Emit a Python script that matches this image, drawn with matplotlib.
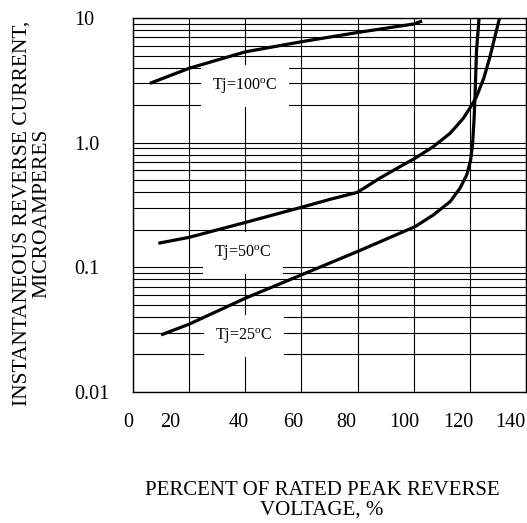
import matplotlib
matplotlib.use("Agg")
import matplotlib.pyplot as plt
from matplotlib.ticker import LogLocator, NullFormatter

plt.rcParams['font.family'] = ['Liberation Serif', 'DejaVu Serif']
plt.rcParams['mathtext.fontset'] = 'custom'
plt.rcParams['mathtext.rm'] = 'Liberation Serif'

# curve values (percent of rated PRV -> microamps)
v_100 = [6, 20, 40, 60, 80, 100, 103]
i_100 = [2.99, 3.95, 5.35, 6.45, 7.65, 8.95, 9.45]

v_50 = [9, 20, 40, 60, 70, 80, 88, 95, 100.5, 107, 113, 117.7, 120.7, 122.4, 125, 127.2, 130.6]
i_50 = [0.156, 0.174, 0.229, 0.303, 0.35, 0.40, 0.52, 0.64, 0.75, 0.93, 1.19, 1.57, 2.0, 2.34, 3.3, 4.9, 10]

v_25 = [10, 20, 40, 60, 80, 100.5, 107, 113, 116.5, 118.9, 120.3, 121, 121.5, 121.8, 122.4, 123.3]
i_25 = [0.0287, 0.035, 0.0565, 0.087, 0.134, 0.212, 0.263, 0.337, 0.431, 0.551, 0.726, 0.99, 1.52, 2.2, 5.5, 10]

curve_labels = [r'Tj=100$^{\mathrm{o}}$C', r'Tj=50$^{\mathrm{o}}$C', r'Tj=25$^{\mathrm{o}}$C']
x_ticks = [0, 20, 40, 60, 80, 100, 120, 140]
y_ticks = [0.01, 0.1, 1.0, 10]
y_ticklabels = ['0.01', '0.1', '1.0', '10']

# the printed x labels sit a little left of their grid lines
x_label_pos = [-1.8, 13.2, 37.6, 57.0, 76.1, 96.7, 115.8, 134.3]
label_pos = [(39.9, 2.85), (39.2, 0.1305), (39.5, 0.0282)]

fig = plt.figure(figsize=(5.27, 5.23), dpi=100)
ax = fig.add_axes([0.2524, 0.2505, 0.7456, 0.7151])

ax.set_yscale('log')

ax.set_xticks(x_ticks)
ax.set_xticklabels([''] * len(x_ticks))
ax.xaxis.grid(True, which='major', color='black', lw=0.8)

ax.set_yticks(y_ticks)
ax.set_yticklabels(y_ticklabels)
ax.yaxis.set_minor_locator(LogLocator(base=10, subs=range(2, 10)))
ax.yaxis.set_minor_formatter(NullFormatter())
ax.yaxis.grid(True, which='both', color='black', lw=0.8)
ax.set_axisbelow(True)

ax.set_xlim(0, 140)
ax.set_ylim(0.01, 10)

ax.tick_params(axis='both', which='both', length=0, labelsize=14.5)
ax.tick_params(axis='y', which='major', pad=42)
for lab in ax.get_yticklabels():
    lab.set_horizontalalignment('left')

# x numbers placed by hand, they don't line up with the grid in the original
for t, pos in zip(x_ticks, x_label_pos):
    ax.annotate(str(t), xy=(pos, 0), xycoords=('data', 'axes fraction'),
                xytext=(0, -15), textcoords='offset points',
                ha='center', va='top', fontsize=14.5, annotation_clip=False)

for s in ax.spines.values():
    s.set_linewidth(1.0)

for v, i in [(v_100, i_100), (v_50, i_50), (v_25, i_25)]:
    ax.plot(v, i, color='black', lw=2.3, solid_joinstyle='round',
            solid_capstyle='butt', zorder=4)

for txt, (x, y) in zip(curve_labels, label_pos):
    ax.text(x, y, txt, fontsize=11.5, ha='center', va='center', zorder=3,
            bbox=dict(boxstyle='square,pad=0.7', fc='white', ec='none'))

fig.text(32 / 527, 1 - 213 / 523,
         'INSTANTANEOUS REVERSE CURRENT,\nMICROAMPERES',
         rotation=90, ha='center', va='center', fontsize=15.5,
         linespacing=1.05, multialignment='center')
fig.text(322 / 527, 1 - 500 / 523,
         'PERCENT OF RATED PEAK REVERSE\nVOLTAGE, %',
         ha='center', va='center', fontsize=15,
         linespacing=1.05, multialignment='center')

fig.savefig('out.png', dpi=100)
